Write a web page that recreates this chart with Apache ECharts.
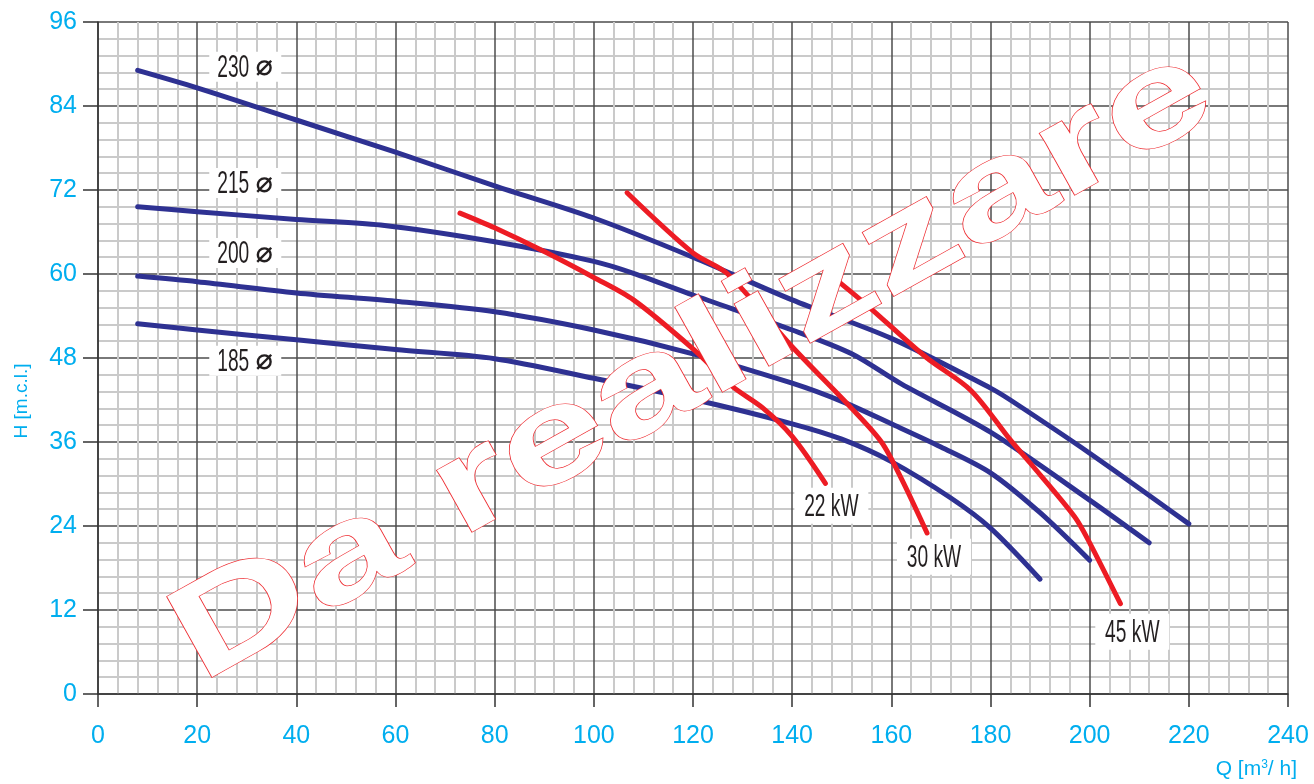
<!DOCTYPE html>
<html>
<head>
<meta charset="utf-8">
<title>Curve caratteristiche pompa</title>
<script src="https://cdn.jsdelivr.net/npm/echarts@6/dist/echarts.min.js"></script>
<style>
  html, body { margin: 0; padding: 0; background: #fff; }
  #main { width: 1314px; height: 784px; }
</style>
</head>
<body>
<div id="main"></div>
<script>
// portata Q [m3/h] e prevalenza H [m] letti dal grafico
// curve girante (diametro)
const q230 = [8, 20, 40, 60, 80, 100, 120, 140, 160, 180, 184, 200, 220]
const h230 = [89.1, 86.6, 82.0, 77.4, 72.6, 68.0, 62.4, 56.3, 50.8, 43.7, 42.0, 34.4, 24.3]
const q215 = [8, 20, 40, 57, 80, 100, 108, 120, 140, 152, 162, 180, 200, 212]
const h215 = [69.6, 68.9, 67.8, 67.0, 64.6, 61.8, 60.1, 57.0, 52.0, 48.6, 44.3, 37.4, 27.7, 21.6]
const q200 = [8, 20, 40, 60, 80, 100, 120, 140, 150, 160, 170, 180, 190, 200]
const h200 = [59.7, 58.9, 57.3, 56.1, 54.6, 52.0, 48.6, 44.4, 41.8, 38.6, 35.3, 31.6, 25.9, 19.1]
const q185 = [8, 20, 40, 60, 80, 100, 120, 140, 150, 160, 172, 180, 190]
const h185 = [52.9, 52.0, 50.6, 49.2, 47.9, 45.1, 42.1, 38.6, 36.4, 33.2, 28.0, 23.7, 16.4]

// curve di potenza
const q22 = [73, 80, 90, 100, 108, 120, 128, 134, 140, 146.7]
const h22 = [68.7, 66.6, 63.2, 59.5, 56.3, 49.3, 43.9, 40.9, 36.8, 30.1]
const q30 = [106.7, 120, 127, 140, 152, 158, 162, 167.2]
const h30 = [71.6, 63.0, 60.0, 49.6, 40.8, 36.0, 30.8, 23.0]
const q45 = [148, 155, 167, 176, 184, 188, 197, 200, 206.2]
const h45 = [59.7, 55.6, 48.1, 43.4, 36.3, 33.0, 25.3, 21.6, 12.9]

// etichette (posizione in coordinate del grafico)
const diaNames = ['230', '215', '200', '185']
const diaQ = [29.7, 29.7, 29.7, 29.7]
const diaH = [89.6, 73.0, 63.0, 47.6]
const kwNames = ['22 kW', '30 kW', '45 kW']
const kwQ = [147.9, 168.6, 208.6]
const kwH = [26.9, 19.6, 8.9]

const BLU = '#2e3192'
const ROSSO = '#ed1c24'
const CIANO = '#00aeef'
const NERO = '#231f20'

function zip(q, h) {
  return q.map((x, i) => [x, h[i]])
}

function curva(nome, q, h, colore) {
  return {
    name: nome,
    type: 'line',
    data: zip(q, h),
    showSymbol: false,
    symbol: 'none',
    smooth: 0.3,
    silent: true,
    z: 3,
    lineStyle: { color: colore, width: 5, cap: 'round', join: 'round' },
  }
}

const chart = echarts.init(document.getElementById('main'))

chart.setOption({
  animation: false,
  backgroundColor: '#fff',
  grid: { left: 98, right: 26, top: 22, bottom: 90 },
  xAxis: {
    type: 'value',
    min: 0,
    max: 240,
    interval: 20,
    axisLine: { show: true, lineStyle: { color: '#333', width: 1.5 } },
    axisTick: { show: true, length: 13, lineStyle: { color: '#333', width: 1.5 } },
    axisLabel: { color: CIANO, fontSize: 25, margin: 30, fontFamily: 'Liberation Sans, Arial, sans-serif' },
    splitLine: { show: true, lineStyle: { color: '#4d4d4d', width: 1.5 } },
    minorTick: { show: false, splitNumber: 5 },
    minorSplitLine: { show: true, lineStyle: { color: '#cacaca', width: 2 } },
  },
  yAxis: {
    type: 'value',
    min: 0,
    max: 96,
    interval: 12,
    axisLine: { show: true, lineStyle: { color: '#333', width: 1.5 } },
    axisTick: { show: true, length: 15, lineStyle: { color: '#333', width: 1.5 } },
    axisLabel: { color: CIANO, fontSize: 25, margin: 21, fontFamily: 'Liberation Sans, Arial, sans-serif' },
    splitLine: { show: true, lineStyle: { color: '#4d4d4d', width: 1.5 } },
    minorTick: { show: false, splitNumber: 5 },
    minorSplitLine: { show: true, lineStyle: { color: '#cacaca', width: 2 } },
  },
  series: [
    curva('230', q230, h230, BLU),
    curva('215', q215, h215, BLU),
    curva('200', q200, h200, BLU),
    curva('185', q185, h185, BLU),
    curva('22 kW', q22, h22, ROSSO),
    curva('30 kW', q30, h30, ROSSO),
    curva('45 kW', q45, h45, ROSSO),
  ],
})

// etichette e scritte sopra il grafico
let elementi = []

// scritta "Da realizzare"
elementi.push({
  type: 'text',
  x: 693,
  y: 366,
  rotation: 29.2 * Math.PI / 180,
  scaleX: 1.47,
  scaleY: 1.03,
  z: 50,
  silent: true,
  style: {
    text: 'Da realizzare',
    font: 'bold 130px "Liberation Sans", Arial, sans-serif',
    fill: '#fff',
    stroke: '#ee2a2f',
    lineWidth: 1.2,
    align: 'center',
    verticalAlign: 'middle',
    textAlign: 'center',
    textVerticalAlign: 'middle',
  },
})

// diametri girante
diaNames.forEach((nome, i) => {
  let p = chart.convertToPixel({ gridIndex: 0 }, [diaQ[i], diaH[i]])
  elementi.push({
    type: 'group',
    z: 60,
    silent: true,
    children: [
      { type: 'rect', shape: { x: p[0] - 36, y: p[1] - 15, width: 72, height: 30 }, style: { fill: '#fff' } },
      {
        type: 'text', x: p[0] - 12, y: p[1] + 1, scaleX: 0.6,
        style: { text: nome, font: '32px "Liberation Sans", Arial, sans-serif', fill: NERO,
          align: 'center', verticalAlign: 'middle', textAlign: 'center', textVerticalAlign: 'middle' },
      },
      {
        type: 'text', x: p[0] + 19, y: p[1] + 1,
        style: { text: '\u2300', font: 'bold 29px "DejaVu Sans", sans-serif', fill: NERO,
          align: 'center', verticalAlign: 'middle', textAlign: 'center', textVerticalAlign: 'middle' },
      },
    ],
  })
})

// potenze
kwNames.forEach((nome, i) => {
  let p = chart.convertToPixel({ gridIndex: 0 }, [kwQ[i], kwH[i]])
  elementi.push({
    type: 'group',
    z: 60,
    silent: true,
    children: [
      { type: 'rect', shape: { x: p[0] - 37, y: p[1] - 18, width: 74, height: 36 }, style: { fill: '#fff' } },
      {
        type: 'text', x: p[0], y: p[1] + 1, scaleX: 0.6,
        style: { text: nome, font: '32px "Liberation Sans", Arial, sans-serif', fill: NERO,
          align: 'center', verticalAlign: 'middle', textAlign: 'center', textVerticalAlign: 'middle' },
      },
    ],
  })
})

// nomi assi
elementi.push({
  type: 'text',
  x: 22,
  y: 401,
  rotation: Math.PI / 2,
  silent: true,
  style: {
    text: 'H [m.c.l.]',
    font: '19px "Liberation Sans", Arial, sans-serif',
    fill: CIANO,
    align: 'center', verticalAlign: 'middle', textAlign: 'center', textVerticalAlign: 'middle',
  },
})
elementi.push({
  type: 'text',
  right: 17,
  top: 759,
  silent: true,
  style: {
    text: '{a|Q [m}{s|3}{a|/ h]}',
    rich: {
      a: { fontSize: 21, fontFamily: 'Liberation Sans, Arial, sans-serif', fill: CIANO, color: CIANO },
      s: { fontSize: 12, fontFamily: 'Liberation Sans, Arial, sans-serif', fill: CIANO, color: CIANO, verticalAlign: 'top' },
    },
  },
})

chart.setOption({ graphic: { elements: elementi } })
</script>
</body>
</html>
